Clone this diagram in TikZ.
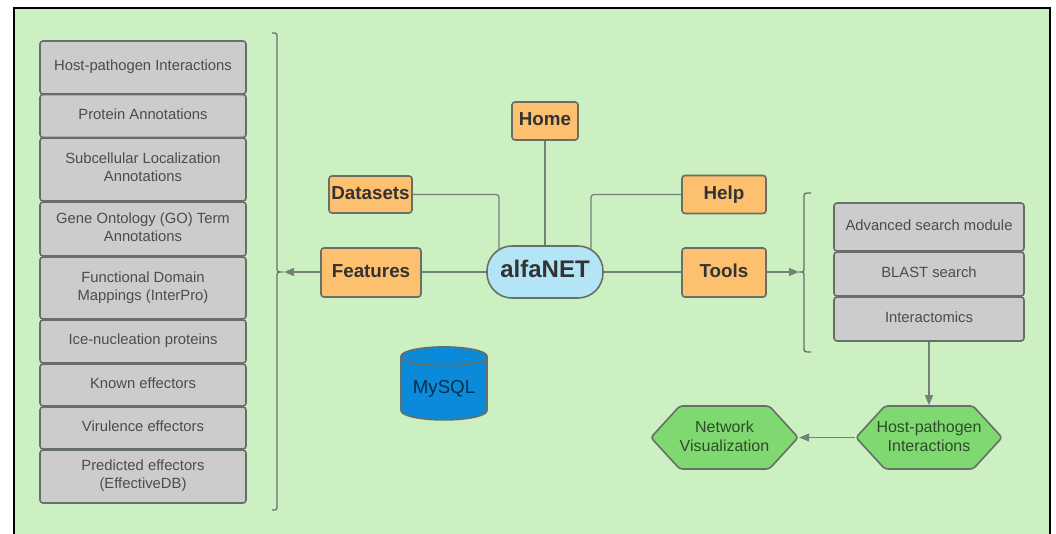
\documentclass[tikz,border=0pt]{standalone}
\usepackage{fontspec}
\setmainfont{Liberation Sans}
\usetikzlibrary{arrows.meta,shapes.geometric,shapes.misc,shapes.symbols}
\definecolor{panel-green}{HTML}{CDF0C2}
\definecolor{line-grey}{HTML}{667066}
\definecolor{link-grey}{HTML}{75807A}
\definecolor{box-grey}{HTML}{CCCCCC}
\definecolor{menu-orange}{HTML}{FDC06F}
\definecolor{hub-blue}{HTML}{B3E5F7}
\definecolor{hex-green}{HTML}{80D970}
\definecolor{db-blue}{HTML}{0A8AD8}
\tikzset{
    list-box/.style = {draw=line-grey, fill=box-grey, line width=1.6pt, rectangle, rounded corners=3pt, text=black!70, align=center, inner sep=0pt, text height=11pt, text depth=4.5pt, font=\fontsize{14.8}{18}\selectfont},
    list-box-two/.style = {list-box, text height=29pt},
    menu-box/.style = {draw=line-grey, fill=menu-orange, line width=1.6pt, rectangle, rounded corners=3pt, text=black!80, inner sep=0pt, text height=14pt, text depth=4.5pt, font=\fontsize{18.8}{22}\selectfont\bfseries},
    hub-box/.style = {draw=line-grey, fill=hub-blue, line width=1.6pt, rounded corners=25pt, text=black!80, inner sep=0pt, text height=18pt, text depth=6.8pt, font=\fontsize{24}{28}\selectfont\bfseries},
    hex-box/.style = {draw=line-grey, fill=hex-green, line width=1.6pt, shape=signal, signal to=east and west, signal pointer angle=95, rounded corners=3pt, text=black!65!hex-green, align=center, inner sep=0pt, text height=32pt, text depth=3.5pt, font=\fontsize{16}{19.5}\selectfont},
    db-box/.style = {draw=line-grey, fill=db-blue, line width=1.6pt, shape=cylinder, shape border rotate=90, shape aspect=0.3, text=black!65!db-blue, inner sep=0pt, font=\fontsize{18.7}{22}\selectfont},
    link/.style = {draw=link-grey, line width=1.3pt, rounded corners=3pt},
    link-tip/.style = {link, -{Triangle[length=10pt,width=8pt]}},
}

\begin{document}
\begin{tikzpicture}[x=1pt,y=-1pt]
\path[use as bounding box, fill=white] (0,0) rectangle (1056,533);
\draw[fill=panel-green, line width=2.6pt] (14,8) rectangle (1050,545);

% left list
\node[list-box, minimum width=206pt, minimum height=53pt] (host-list) at (143,67.5) {Host-pathogen Interactions};
\node[list-box, minimum width=206pt, minimum height=43pt] (protein) at (143,116) {Protein Annotations};
\node[list-box-two, minimum width=206pt, minimum height=63pt] (subcell) at (143,169.5) {Subcellular Localization\\Annotations};
\node[list-box-two, minimum width=206pt, minimum height=54pt] (go-term) at (143,229) {Gene Ontology (GO) Term\\Annotations};
\node[list-box-two, minimum width=206pt, minimum height=62pt] (domain) at (143,288) {Functional Domain\\Mappings (InterPro)};
\node[list-box, minimum width=206pt, minimum height=43pt] (ice) at (143,341.5) {Ice-nucleation proteins};
\node[list-box, minimum width=206pt, minimum height=42pt] (known) at (143,385) {Known effectors};
\node[list-box, minimum width=206pt, minimum height=42pt] (virulence) at (143,428) {Virulence effectors};
\node[list-box-two, minimum width=206pt, minimum height=53pt] (predicted) at (143,476.5) {Predicted effectors\\(EffectiveDB)};

% menu
\node[hub-box, minimum width=116pt, minimum height=52pt] (alfanet) at (545,272) {alfaNET};
\node[menu-box, minimum width=66pt, minimum height=38pt] (home) at (545,121) {Home};
\node[menu-box, minimum width=83pt, minimum height=37pt] (datasets) at (370.5,194.5) {Datasets};
\node[menu-box, minimum width=100pt, minimum height=49pt] (features) at (371,272.5) {Features};
\node[menu-box, minimum width=84pt, minimum height=38pt] (help) at (724,194.5) {Help};
\node[menu-box, minimum width=84pt, minimum height=49pt] (tools) at (724,272.5) {Tools};
\node[db-box, minimum width=86pt, minimum height=73pt] (mysql) at (444,388.5) {MySQL};

% right list
\node[list-box, minimum width=190pt, minimum height=48pt] (advanced) at (929,227) {Advanced search module};
\node[list-box, minimum width=190pt, minimum height=44pt] (blast) at (929,274) {BLAST search};
\node[list-box, minimum width=190pt, minimum height=44pt] (interactomics) at (929,319) {Interactomics};
\node[hex-box, minimum width=146pt, minimum height=63pt] (host-hex) at (929,437.5) {\makebox[88pt][c]{Host-pathogen}\\Interactions};
\node[hex-box, minimum width=145pt, minimum height=63pt] (network) at (724.5,437.5) {Network\\Visualization};

\coordinate (datasets-drop) at (499,250);
\coordinate (help-drop) at (591,250);
\coordinate (features-brace) at (284,272);
\coordinate (tools-brace) at (799,272);

% links
\draw[link] (home) -- (alfanet);
\draw[link] (datasets.east) -| (datasets-drop);
\draw[link] (help.west) -| (help-drop);
\draw[link] (alfanet.west) -- (features.east |- alfanet.west);
\draw[link] (alfanet.east) -- (tools.west |- alfanet.east);
\draw[link-tip] (features.west |- alfanet.west) -- (features-brace);
\draw[link-tip] (tools.east |- alfanet.east) -- (tools-brace);
\draw[link-tip] (interactomics.south) -- (host-hex.north);
\draw[link-tip] (host-hex.west) -- (network.east);

% braces
\draw[draw=line-grey, line width=1.3pt] (272,33) .. controls (277,33) .. (277,38) -- (277,267) .. controls (277,272) .. (283,272) .. controls (277,272) .. (277,277) -- (277,505) .. controls (277,510) .. (272,510);
\draw[draw=line-grey, line width=1.3pt] (811,193) .. controls (804,193) .. (804,198) -- (804,267) .. controls (804,272) .. (799,272) .. controls (804,272) .. (804,277) -- (804,347) .. controls (804,352) .. (811,352);
\end{tikzpicture}
\end{document}
